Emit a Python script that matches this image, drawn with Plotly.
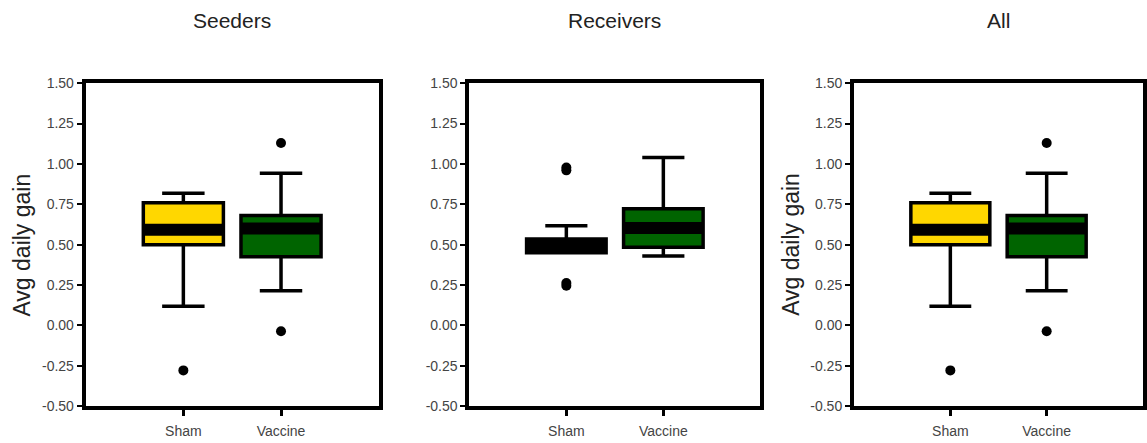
import plotly.graph_objects as go

# ---------------- data ----------------
panel_titles = ["Seeders", "Receivers", "All"]
groups = ["Sham", "Vaccine"]
group_pos = [1, 2]

# per panel: [Sham, Vaccine]
lower_whisker = [[0.118, 0.215], [0.450, 0.429], [0.118, 0.215]]
q1_vals       = [[0.500, 0.425], [0.450, 0.484], [0.500, 0.425]]
median_vals   = [[0.592, 0.600], [0.492, 0.603], [0.592, 0.600]]
q3_vals       = [[0.759, 0.681], [0.535, 0.722], [0.759, 0.681]]
upper_whisker = [[0.819, 0.942], [0.617, 1.040], [0.819, 0.942]]
outliers      = [[[-0.279], [1.129, -0.036]],
                 [[0.960, 0.978, 0.245, 0.262], []],
                 [[-0.279], [1.129, -0.036]]]

y_tick_vals = [-0.50, -0.25, 0.00, 0.25, 0.50, 0.75, 1.00, 1.25, 1.50]
y_tick_labels = ["-0.50", "-0.25", "0.00", "0.25", "0.50", "0.75", "1.00", "1.25", "1.50"]
y_title = "Avg daily gain"
y_title_panels = [True, False, True]

fill_colors = ["#FFD700", "#006400"]

# ---------------- layout geometry ----------------
W, H = 1147, 443
x_domains = [(86 / W, 380 / W), (471 / W, 763 / W), (857 / W, 1.0)]
y_domain = (1 - 413 / H, 1 - 78 / H)
BOX_W = 0.82
FONT = "Arial, Liberation Sans, sans-serif"

fig = go.Figure()

for p in range(3):
    xa = "x" if p == 0 else f"x{p+1}"
    ya = "y" if p == 0 else f"y{p+1}"
    for g in range(2):
        fig.add_trace(go.Box(
            x=[group_pos[g]],
            q1=[q1_vals[p][g]], median=[median_vals[p][g]], q3=[q3_vals[p][g]],
            lowerfence=[lower_whisker[p][g]], upperfence=[upper_whisker[p][g]],
            width=BOX_W, whiskerwidth=0.53,
            fillcolor=fill_colors[g],
            line=dict(color="black", width=3.5),
            boxpoints=False, hoverinfo="skip", showlegend=False,
            xaxis=xa, yaxis=ya,
        ))
        # thick median band
        m = median_vals[p][g]
        fig.add_trace(go.Scatter(
            x=[group_pos[g] - BOX_W / 2, group_pos[g] + BOX_W / 2],
            y=[m, m], mode="lines",
            line=dict(color="black", width=12),
            hoverinfo="skip", showlegend=False, xaxis=xa, yaxis=ya,
        ))
        if outliers[p][g]:
            fig.add_trace(go.Scatter(
                x=[group_pos[g]] * len(outliers[p][g]), y=outliers[p][g],
                mode="markers", marker=dict(color="black", size=10),
                hoverinfo="skip", showlegend=False, xaxis=xa, yaxis=ya,
            ))

layout = dict(
    width=W, height=H,
    margin=dict(l=0, r=0, t=0, b=0),
    paper_bgcolor="white", plot_bgcolor="white",
    font=dict(family=FONT, color="#333333"),
    showlegend=False,
)
annotations = []
for p in range(3):
    sfx = "" if p == 0 else str(p + 1)
    layout["xaxis" + sfx] = dict(
        domain=list(x_domains[p]), anchor="y" + sfx,
        range=[0, 3], tickvals=group_pos, ticktext=groups,
        showgrid=False, zeroline=False,
        showline=True, linecolor="black", linewidth=4, mirror=True,
        ticks="outside", ticklen=6, tickwidth=2.5, tickcolor="black",
        ticklabelstandoff=3,
        tickfont=dict(size=14, color="#444444", family=FONT),
        fixedrange=True,
    )
    layout["yaxis" + sfx] = dict(
        domain=list(y_domain), anchor="x" + sfx,
        range=[-0.5, 1.5], tickvals=y_tick_vals, ticktext=y_tick_labels,
        showgrid=False, zeroline=False,
        showline=True, linecolor="black", linewidth=4, mirror=True,
        ticks="outside", ticklen=5, tickwidth=2, tickcolor="black",
        tickfont=dict(size=14, color="#444444", family=FONT),
        fixedrange=True,
    )
    xc = (x_domains[p][0] + x_domains[p][1]) / 2
    annotations.append(dict(
        text=panel_titles[p], x=xc, y=1 - 13 / H, xref="paper", yref="paper",
        xanchor="center", yanchor="middle", showarrow=False,
        font=dict(size=21, color="#222222", family=FONT),
    ))
    if y_title_panels[p]:
        annotations.append(dict(
            text=y_title, textangle=-90,
            x=x_domains[p][0] - 64 / W, y=(y_domain[0] + y_domain[1]) / 2,
            xref="paper", yref="paper", xanchor="center", yanchor="middle",
            showarrow=False, font=dict(size=23, color="#222222", family=FONT),
        ))
layout["annotations"] = annotations
fig.update_layout(**layout)

fig.write_html("out.html")
